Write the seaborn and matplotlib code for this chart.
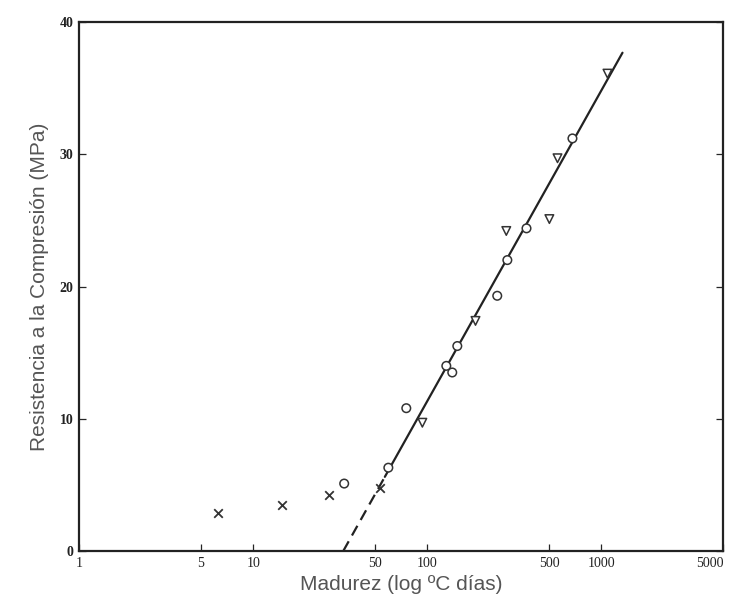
import numpy as np
import pandas as pd
import matplotlib
matplotlib.use("Agg")
import matplotlib.pyplot as plt
import seaborn as sns

# Data
cross_x = [6.3, 14.7, 27.3, 53.7]
cross_y = [2.9, 3.5, 4.2, 4.75]
circle_x = [33.3, 59.7, 75.7, 128.5, 139, 148.6, 252, 288, 371, 681]
circle_y = [5.1, 6.3, 10.8, 14.0, 13.5, 15.5, 19.3, 22.0, 24.4, 31.2]
tri_x = [93.6, 189, 284, 502, 559, 1082]
tri_y = [9.7, 17.4, 24.2, 25.1, 29.7, 36.1]

# Regression line: y = slope * (log10(x) - log10(x0))
line_x0 = 32.9
line_slope = 23.5
dash_end = 57.0
line_end = 1320.0

xticks = [1, 5, 10, 50, 100, 500, 1000, 5000]
yticks = [0, 10, 20, 30, 40]

df_open = pd.DataFrame({
    "x": circle_x + tri_x,
    "y": circle_y + tri_y,
    "serie": ["circulo"] * len(circle_x) + ["triangulo"] * len(tri_x),
})
df_cross = pd.DataFrame({"x": cross_x, "y": cross_y})

sns.set_style("ticks")
plt.rcParams["font.family"] = ["Liberation Sans", "DejaVu Sans"]

fig = plt.figure(figsize=(7.32, 6.14), dpi=100)
ax = fig.add_axes([0.108, 0.1026, 0.880, 0.8615])

def line_y(x):
    return line_slope * (np.log10(np.asarray(x)) - np.log10(line_x0))

xd = np.array([line_x0, dash_end])
xs = np.array([dash_end, line_end])
sns.lineplot(x=xd, y=line_y(xd), ax=ax, color="#222222", lw=1.6, linestyle=(0, (5, 3)))
sns.lineplot(x=xs, y=line_y(xs), ax=ax, color="#222222", lw=1.6)

sns.scatterplot(data=df_open, x="x", y="y", style="serie", ax=ax,
                markers={"circulo": "o", "triangulo": "v"},
                s=38, facecolor="white", edgecolor="#333333", linewidth=1.1, legend=False,
                zorder=3)
sns.scatterplot(data=df_cross, x="x", y="y", marker="x", s=38, color="#333333",
                linewidth=1.3, ax=ax, legend=False, zorder=3)

ax.set_xscale("log")
ax.set_xlim(1, 5000)
ax.set_ylim(0, 40)
ax.set_xticks(xticks)
ax.set_xticklabels([str(t) for t in xticks], family=["Liberation Serif", "DejaVu Serif"],
                   fontsize=10, color="#222222")
ax.get_xticklabels()[-1].set_horizontalalignment("right")
ax.xaxis.set_minor_locator(matplotlib.ticker.NullLocator())
ax.set_yticks(yticks)
ax.set_yticklabels([str(t) for t in yticks], family=["Liberation Serif", "DejaVu Serif"],
                   fontsize=10, color="#222222", fontweight="bold")
ax.tick_params(direction="in", length=5, width=0.9, top=False, right=True, pad=4)

for s in ax.spines.values():
    s.set_visible(True)
    s.set_linewidth(1.6)
    s.set_color("#222222")

ax.set_xlabel("Madurez (log ºC días)", fontsize=15, color="#555555", labelpad=4)
ax.set_ylabel("Resistencia a la Compresión (MPa)", fontsize=15, color="#555555", labelpad=8)

fig.savefig("out.png", dpi=100)
